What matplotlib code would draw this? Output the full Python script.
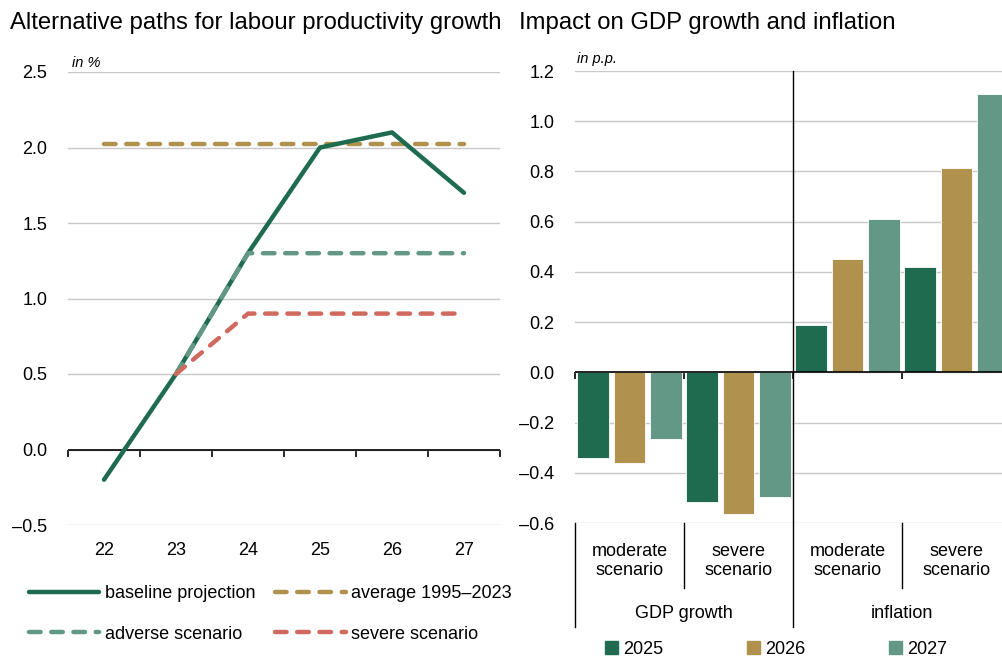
import matplotlib
matplotlib.use("Agg")
import matplotlib.pyplot as plt
import matplotlib.ticker as mticker
import matplotlib.transforms as mtransforms
from matplotlib.patches import Patch
from matplotlib.lines import Line2D

# ---------------- data ----------------
years_lp = [22, 23, 24, 25, 26, 27]
baseline = [-0.2, 0.5, 1.3, 2.0, 2.1, 1.7]
average_years = [22, 27]
average_val = [2.02, 2.02]
adverse_years = [23, 24, 25, 26, 27]
adverse = [0.5, 1.3, 1.3, 1.3, 1.3]
severe_years = [23, 24, 25, 26, 27]
severe = [0.5, 0.9, 0.9, 0.9, 0.9]

scenarios = ["moderate\nscenario", "severe\nscenario", "moderate\nscenario", "severe\nscenario"]
groups = ["GDP growth", "inflation"]
bar_years = ["2025", "2026", "2027"]
impact_2025 = [-0.34, -0.515, 0.19, 0.42]
impact_2026 = [-0.36, -0.565, 0.45, 0.815]
impact_2027 = [-0.265, -0.495, 0.61, 1.11]

# ---------------- style ----------------
plt.rcParams["font.family"] = ["Liberation Sans", "DejaVu Sans"]
FS = 13

DG = "#1f6b50"
GOLD = "#b0924e"
LG = "#629885"
RED = "#d06a5e"
GRID = "#c8c8c8"

def fmt(v, pos):
    s = f"{abs(v):.1f}"
    return ("\u2013" + s) if v < -1e-9 else s

fig = plt.figure(figsize=(10.03, 6.57), dpi=100)

# ---------------- left chart ----------------
ax1 = fig.add_axes([68 / 1003, 1 - 525 / 657, 432 / 1003, 453 / 657])
ax1.set_xlim(21.5, 27.5)
ax1.set_ylim(-0.5, 2.5)
ax1.set_yticks([-0.5, 0.0, 0.5, 1.0, 1.5, 2.0, 2.5])
ax1.yaxis.set_major_formatter(mticker.FuncFormatter(fmt))
ax1.set_xticks(years_lp)
ax1.set_xticklabels([str(y) for y in years_lp])
for s in ax1.spines.values():
    s.set_visible(False)
ax1.tick_params(axis="both", length=0, labelsize=FS)
ax1.tick_params(axis="y", pad=15)
ax1.tick_params(axis="x", pad=12)
ax1.grid(axis="y", color=GRID, lw=1.0)
ax1.set_axisbelow(True)
ax1.axhline(0, color="black", lw=1.2, zorder=2)
sec = ax1.secondary_xaxis(0.5 / 3.0)
sec.set_xticks([21.5 + i for i in range(7)])
sec.tick_params(length=5, width=1.2, labelbottom=False, color="black")
sec.spines["bottom"].set_visible(False)

dash = (0, (2.6, 2.4))
ax1.plot(average_years, average_val, color=GOLD, lw=3.2, ls=dash, dash_capstyle="round", zorder=3)
ax1.plot(years_lp, baseline, color=DG, lw=3.2, solid_capstyle="round", solid_joinstyle="round", zorder=4)
ax1.plot(adverse_years, adverse, color=LG, lw=3.2, ls=dash, dash_capstyle="round", zorder=5)
ax1.plot(severe_years, severe, color=RED, lw=3.2, ls=dash, dash_capstyle="round", zorder=5)
ax1.text(0.01, 1.005, "in %", transform=ax1.transAxes, fontsize=10.5, style="italic", va="bottom", ha="left")

handles = [
    Line2D([], [], color=DG, lw=3.2, solid_capstyle="round"),
    Line2D([], [], color=LG, lw=3.2, ls=dash, dash_capstyle="round"),
    Line2D([], [], color=GOLD, lw=3.2, ls=dash, dash_capstyle="round"),
    Line2D([], [], color=RED, lw=3.2, ls=dash, dash_capstyle="round"),
]
labels = ["baseline projection", "adverse scenario", "average 1995\u20132023", "severe scenario"]
fig.legend(handles, labels, ncol=2, loc="center left", bbox_to_anchor=(20 / 1003, 1 - 614 / 657),
           frameon=False, handlelength=3.9, handletextpad=0.3, columnspacing=1.1,
           labelspacing=1.3, prop={"size": FS}, borderpad=0)

# ---------------- right chart ----------------
ax2 = fig.add_axes([575 / 1003, 1 - 523 / 657, 436 / 1003, 452 / 657])
ax2.set_xlim(-0.5, 3.5)
ax2.set_ylim(-0.6, 1.2)
ax2.set_yticks([-0.6, -0.4, -0.2, 0.0, 0.2, 0.4, 0.6, 0.8, 1.0, 1.2])
ax2.yaxis.set_major_formatter(mticker.FuncFormatter(fmt))
for s in ax2.spines.values():
    s.set_visible(False)
ax2.set_xticks([])
ax2.tick_params(axis="y", length=0, labelsize=FS, pad=15)
ax2.grid(axis="y", color=GRID, lw=1.0)
ax2.set_axisbelow(True)

xs = list(range(len(scenarios)))
off = 0.335
bw = 0.29
for vals, col, k in [(impact_2025, DG, -1), (impact_2026, GOLD, 0), (impact_2027, LG, 1)]:
    ax2.bar([x + k * off for x in xs], vals, width=bw, color=col, edgecolor="white", linewidth=0.6, zorder=3)

ax2.axhline(0, color="black", lw=1.2, zorder=4)
sec2 = ax2.secondary_xaxis(0.6 / 1.8)
sec2.set_xticks([-0.5, 0.5, 1.5, 2.5])
sec2.tick_params(length=5, width=1.2, labelbottom=False, color="black")
sec2.spines["bottom"].set_visible(False)

tr = mtransforms.blended_transform_factory(ax2.transData, ax2.transAxes)
y_sub = -65 / 452
y_grp = -104 / 452
ax2.plot([1.5, 1.5], [1.0, y_grp], color="black", lw=1.0, transform=tr, clip_on=False, zorder=5)
ax2.plot([-0.5, -0.5], [0, y_grp], color="black", lw=1.0, transform=tr, clip_on=False)
for xb in [0.5, 2.5]:
    ax2.plot([xb, xb], [0, y_sub], color="black", lw=1.0, transform=tr, clip_on=False)
for x, lab in zip(xs, scenarios):
    ax2.text(x, -38 / 452, lab, transform=tr, ha="center", va="center", fontsize=FS, linespacing=1.15)
for gx, g in zip([0.5, 2.5], groups):
    ax2.text(gx, -90 / 452, g, transform=tr, ha="center", va="center", fontsize=FS)
ax2.text(0.005, 1.012, "in p.p.", transform=ax2.transAxes, fontsize=10.5, style="italic", va="bottom", ha="left")

h2 = [Patch(color=c) for c in [DG, GOLD, LG]]
fig.legend(h2, bar_years, ncol=3, loc="center left", bbox_to_anchor=(596 / 1003, 1 - 649 / 657),
           frameon=False, handlelength=0.7, handleheight=0.7, handletextpad=0.3, columnspacing=4.65,
           prop={"size": FS}, borderpad=0)

# ---------------- titles ----------------
fig.text(10 / 1003, 1 - 23 / 657, "Alternative paths for labour productivity growth", fontsize=17.2,
         ha="left", va="center")
fig.text(519 / 1003, 1 - 23 / 657, "Impact on GDP growth and inflation", fontsize=17.2,
         ha="left", va="center")

fig.savefig("out.png", dpi=100)
